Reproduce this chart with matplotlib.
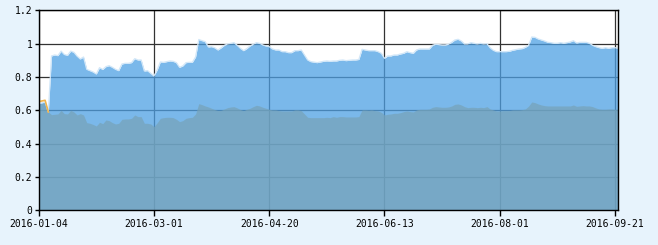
import numpy as np
import matplotlib
matplotlib.use('Agg')
import matplotlib.pyplot as plt

# upper series (light blue area)
top_vals = [
    0.642, 0.645, 0.65, 0.59, 0.926, 0.932, 0.928, 0.955, 0.935, 0.93,
    0.955, 0.948, 0.925, 0.908, 0.92, 0.846, 0.838, 0.83, 0.818, 0.856,
    0.845, 0.862, 0.868, 0.858, 0.846, 0.838, 0.878, 0.882, 0.882, 0.886,
    0.91, 0.902, 0.902, 0.836, 0.838, 0.822, 0.806, 0.842, 0.89, 0.888,
    0.892, 0.896, 0.894, 0.886, 0.858, 0.866, 0.886, 0.888, 0.888, 0.92,
    1.025, 1.018, 1.012, 0.98, 0.982, 0.975, 0.962, 0.975, 0.99, 0.998,
    1.002, 1.006, 0.99, 0.972, 0.958, 0.97, 0.986, 0.996, 1.006, 1.002,
    0.992, 0.986, 0.982, 0.968, 0.962, 0.962, 0.952, 0.952, 0.946, 0.946,
    0.958, 0.958, 0.962, 0.932, 0.902, 0.892, 0.889, 0.886, 0.89, 0.894,
    0.896, 0.894, 0.896, 0.896, 0.9, 0.902, 0.898, 0.9, 0.902, 0.902,
    0.905, 0.966, 0.962, 0.958, 0.958, 0.958, 0.952, 0.942, 0.912, 0.926,
    0.926, 0.932, 0.932, 0.938, 0.942, 0.952, 0.946, 0.942, 0.962, 0.968,
    0.968, 0.968, 0.968, 0.99, 0.996, 0.994, 0.992, 0.992, 0.996, 1.008,
    1.022, 1.026, 1.016, 0.998, 0.998, 1.006, 1.002, 0.998, 1.002, 0.998,
    1.0, 0.975, 0.96, 0.952, 0.952, 0.952, 0.952, 0.954, 0.96, 0.964,
    0.968, 0.97, 0.978, 0.99, 1.04, 1.038, 1.028, 1.022, 1.016, 1.008,
    1.006, 1.002, 1.002, 1.006, 1.002, 1.006, 1.01, 1.018, 1.004, 1.008,
    1.008, 1.008, 1.002, 0.99, 0.982, 0.976, 0.972, 0.976, 0.972, 0.976,
    0.976, 0.972,
]

# lower series (grey-blue area)
bottom_vals = [
    0.642, 0.642, 0.645, 0.59, 0.574, 0.576, 0.578, 0.6, 0.58, 0.578,
    0.6, 0.59, 0.572, 0.58, 0.572, 0.526, 0.522, 0.515, 0.506, 0.528,
    0.52, 0.542, 0.538, 0.526, 0.518, 0.522, 0.546, 0.548, 0.548, 0.552,
    0.572, 0.562, 0.562, 0.522, 0.522, 0.518, 0.502, 0.525, 0.552, 0.556,
    0.558, 0.558, 0.556, 0.546, 0.532, 0.538, 0.552, 0.556, 0.558, 0.578,
    0.64, 0.634, 0.626, 0.62, 0.612, 0.604, 0.598, 0.6, 0.608, 0.616,
    0.62, 0.622, 0.614, 0.604, 0.598, 0.606, 0.612, 0.622, 0.63, 0.626,
    0.618, 0.612, 0.606, 0.602, 0.602, 0.598, 0.596, 0.596, 0.596, 0.596,
    0.602, 0.602, 0.598, 0.578, 0.558, 0.556, 0.556, 0.556, 0.556, 0.556,
    0.558, 0.556, 0.562, 0.558, 0.562, 0.562, 0.56, 0.56, 0.56, 0.56,
    0.562, 0.602, 0.602, 0.6, 0.602, 0.598, 0.596, 0.588, 0.572, 0.576,
    0.578, 0.582, 0.582, 0.586, 0.592, 0.596, 0.592, 0.59, 0.602, 0.606,
    0.606, 0.606, 0.608, 0.618, 0.622, 0.62, 0.618, 0.618, 0.62, 0.626,
    0.636, 0.638, 0.632, 0.622, 0.616, 0.618, 0.618, 0.616, 0.618, 0.616,
    0.622, 0.608, 0.602, 0.596, 0.596, 0.598, 0.598, 0.598, 0.602, 0.602,
    0.602, 0.604, 0.608, 0.625, 0.65, 0.646, 0.638, 0.632, 0.628, 0.626,
    0.626, 0.626, 0.626, 0.626, 0.626, 0.626, 0.626, 0.632, 0.624, 0.626,
    0.628, 0.626, 0.626, 0.622, 0.614, 0.608, 0.606, 0.606, 0.608, 0.608,
    0.606, 0.606,
]

# third series, only visible over the first few days
orange_vals = [0.652, 0.656, 0.66, 0.59]

tick_pos = [0, 36, 72, 108, 144, 180]
tick_labels = ['2016-01-04', '2016-03-01', '2016-04-20', '2016-06-13', '2016-08-01', '2016-09-21']
y_ticks = [0, 0.2, 0.4, 0.6, 0.8, 1.0, 1.2]
y_labels = ['0', '0.2', '0.4', '0.6', '0.8', '1', '1.2']

x = np.arange(len(top_vals))
bg = '#e7f3fc'

fig = plt.figure(figsize=(6.58, 2.45), dpi=100, facecolor=bg)
ax = fig.add_axes([38.7 / 658, 1 - 210.3 / 245, (618.2 - 38.7) / 658, 200 / 245])
ax.set_facecolor('white')

ax.set_xlim(0, len(top_vals) - 1)
ax.set_ylim(0, 1.2)
ax.set_axisbelow(True)
ax.grid(True, color='#333333', linewidth=0.9)

ax.fill_between(x, 0, top_vals, color='#4ea0e3', alpha=0.75, linewidth=0)
ax.plot(x, top_vals, color='#d2e7f8', linewidth=0.9)
ax.fill_between(x, 0, bottom_vals, color='#77a3b8', alpha=0.72, linewidth=0)
ax.plot(np.arange(len(orange_vals)), orange_vals, color='#f0b44c', linewidth=1.2)

ax.set_xticks(tick_pos)
ax.set_xticklabels(tick_labels)
ax.set_yticks(y_ticks)
ax.set_yticklabels(y_labels)

for lab in ax.get_xticklabels() + ax.get_yticklabels():
    lab.set_family('DejaVu Sans Mono')
    lab.set_fontsize(7)
    lab.set_color('black')

ax.tick_params(axis='x', length=4, width=1, pad=2.5, color='black')
ax.tick_params(axis='y', length=3, width=1, pad=1.5, color='black')
for s in ax.spines.values():
    s.set_color('black')
    s.set_linewidth(1)

fig.savefig('out.png', dpi=100, facecolor=bg)
